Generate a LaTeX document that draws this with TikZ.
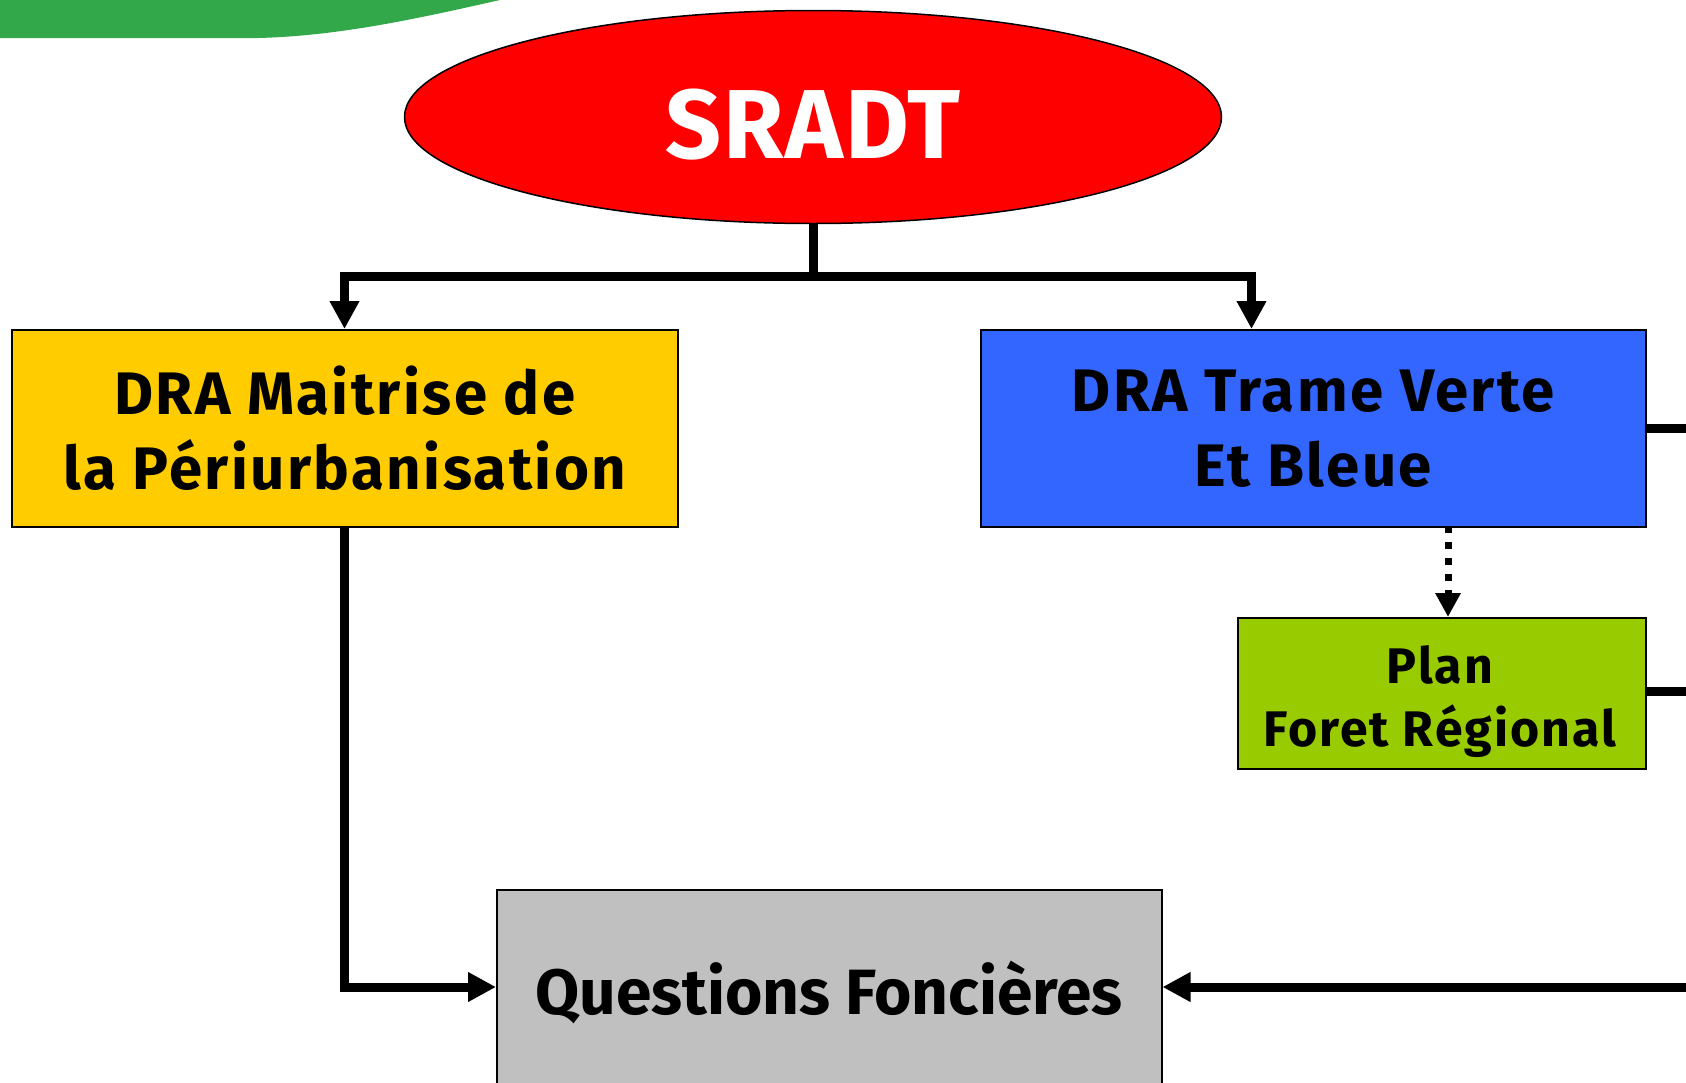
\documentclass[tikz,border=0pt]{standalone}
\usepackage{fontspec}
\setmainfont{Fira Sans}
\usetikzlibrary{arrows.meta,shapes.geometric}
\definecolor{sgreen}{HTML}{32A84A}
\definecolor{sred}{HTML}{FF0000}
\definecolor{syellow}{HTML}{FFCC00}
\definecolor{sblue}{HTML}{3366FF}
\definecolor{slime}{HTML}{99CC00}
\definecolor{sgray}{HTML}{C0C0C0}
\begin{document}
\begin{tikzpicture}[x=1pt,y=-1pt,
  boxnode/.style={draw=black,line width=1.5pt,inner sep=0pt,anchor=north west,align=center},
  boxfont/.style={font=\bfseries\addfontfeature{LetterSpace=4}\fontsize{#1}{1.25*#1}\selectfont},
  conn/.style={line width=9pt,-{Triangle[width=28pt,length=28pt]}},
  plain/.style={line width=9pt}]
\useasboundingbox (0,0) rectangle (1686,1082);
\clip (0,0) rectangle (1686,1082);
% green band top-left
\fill[sgreen] (0,0) -- (500,0) .. controls (420,18) and (340,36) .. (258,38) -- (0,38) -- cycle;
% ellipse
\node[ellipse,draw=black,line width=1.5pt,fill=sred,minimum width=817pt,minimum height=213pt,inner sep=0pt] (sradt) at (813,117) {};
\node[anchor=base,inner sep=0pt,text=white,font=\bfseries\addfontfeature{LetterSpace=2}\fontsize{98}{110}\selectfont] (sradttext) at (813,158) {SRADT};
% boxes
\node[boxnode,fill=syellow,minimum width=666pt,minimum height=197pt,font=\bfseries\addfontfeature{LetterSpace=4}\fontsize{60}{75}\selectfont] (dra1) at (11,329) {DRA Maitrise de\\la Périurbanisation};
\node[boxnode,fill=sblue,minimum width=665pt,minimum height=197pt,font=\bfseries\addfontfeature{LetterSpace=4}\fontsize{60}{75}\selectfont] (dra2) at (980,329) {DRA Trame Verte\\Et Bleue};
\node[boxnode,fill=slime,minimum width=408pt,minimum height=151pt] (plan) at (1237,617) {};
\node[align=center,inner sep=0pt,font=\bfseries\addfontfeature{LetterSpace=4}\fontsize{50}{63}\selectfont] (plantext) at (1440,702) {Plan\\Foret Régional};
\node[boxnode,fill=sgray,minimum width=665pt,minimum height=250pt] (qf) at (496,889) {};
\node[font=\bfseries\fontsize{64}{70}\selectfont,inner sep=0pt] (qft) at (829,992) {Questions Foncières};
% connectors
\coordinate (split) at (813,276);
\draw[plain] (sradt.south) -- (split);
\draw[conn] (split) -- (344.5,276) -- (344.5,329);
\draw[conn] (split) -- (1251.5,276) -- (1251.5,329);
\draw[line width=7pt,dash pattern=on 7pt off 9pt,-{Triangle[width=24pt,length=24pt]}] (1448,526) -- (1448,617);
\draw[conn] (344.5,526) -- (344.5,987) -- (qf.west |- 0,987);
\coordinate (rin) at (1700,987);
\draw[conn] (rin) -- (qf.east |- 0,987);
\coordinate (r1) at (1700,428);
\coordinate (r2) at (1700,691);
\draw[plain] (dra2.east |- 0,428) -- (r1);
\draw[plain] (plan.east |- 0,691) -- (r2);
\end{tikzpicture}
\end{document}
